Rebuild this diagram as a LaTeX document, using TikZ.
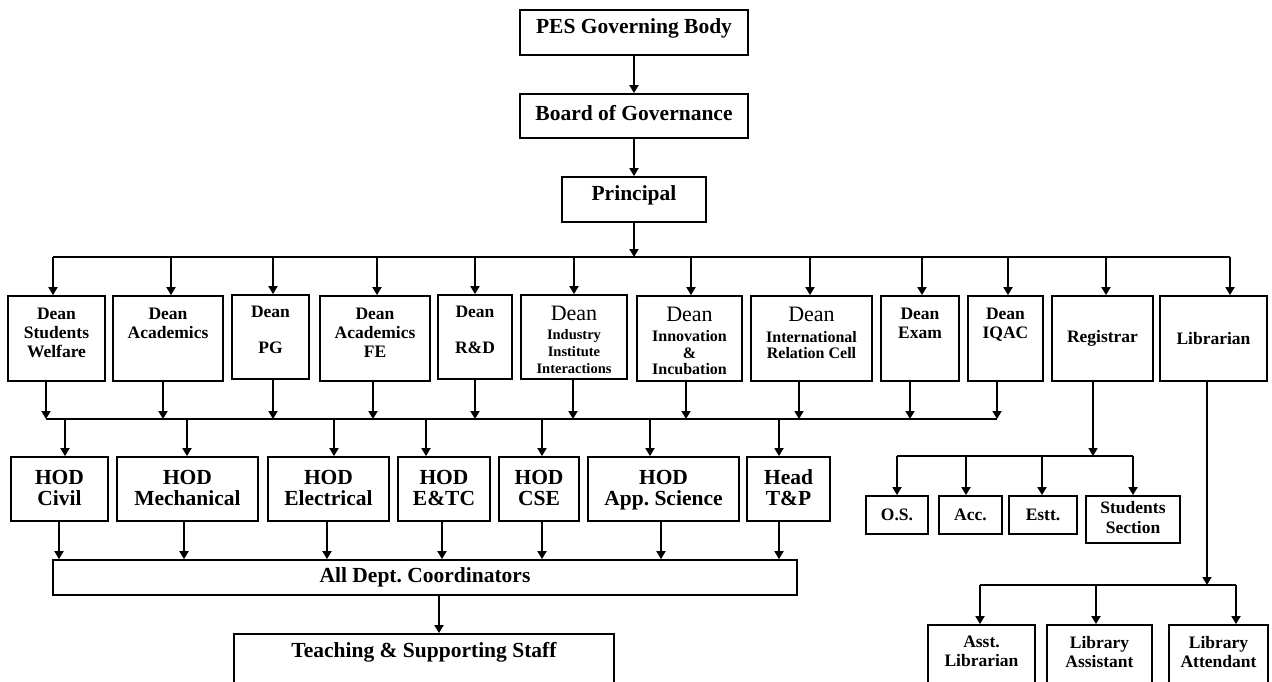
\documentclass[tikz,border=0pt]{standalone}
\usepackage{fontspec}
\setmainfont{Liberation Serif}
\usetikzlibrary{fit,arrows.meta}
\newcommand\BigDean{{\fontsize{11}{11}\selectfont\mdseries Dean}}
\begin{document}
\begin{tikzpicture}[x=0.5pt,y=-0.5pt,
  lw/.style={line width=0.9pt},
  box/.style={draw, line width=0.9pt, inner sep=0pt},
  arr/.style={line width=0.9pt, -{Triangle[length=4pt,width=4.5pt]}},
  big/.style={font=\fontsize{10.75}{10.5}\selectfont\bfseries, align=center, inner sep=0pt},
  mid/.style={font=\fontsize{8.75}{9.5}\selectfont\bfseries, align=center, inner sep=0pt},
  sml/.style={font=\fontsize{7.25}{8.5}\selectfont\bfseries, align=center, inner sep=0pt},
  sub/.style={font=\fontsize{8}{8.25}\selectfont\bfseries, align=center, inner sep=0pt},
]
\useasboundingbox (0,0) rectangle (1272,681);
\clip (0,0) rectangle (1272,681);

% top chain
\node[box, fit={(520,10) (748,55)}] (gov) {};
\node[big] (govt) at ([yshift=2pt]gov.center) {PES Governing Body};
\node[box, fit={(520,94) (748,138)}] (board) {};
\node[big] (boardt) at ([yshift=1.5pt]board.center) {Board of Governance};
\node[box, fit={(562,177) (706,222)}] (prin) {};
\node[big] (print) at ([yshift=2pt]prin.center) {Principal};
\draw[arr] (gov.south) -- (board.north);
\draw[arr] (board.south) -- (prin.north);

% dean row
\node[box, fit={(8,296) (105,381)}] (dsw) {};
\node[box, fit={(113,296) (223,381)}] (dac) {};
\node[box, fit={(232,295) (309,379)}] (dpg) {};
\node[box, fit={(320,296) (430,381)}] (dfe) {};
\node[box, fit={(438,295) (512,379)}] (drd) {};
\node[box, fit={(521,295) (627,379)}] (dii) {};
\node[box, fit={(637,296) (742,381)}] (din) {};
\node[box, fit={(751,296) (872,381)}] (dir) {};
\node[box, fit={(881,296) (959,381)}] (dex) {};
\node[box, fit={(968,296) (1043,381)}] (dqa) {};
\node[box, fit={(1052,296) (1153,381)}] (reg) {};
\node[box, fit={(1160,296) (1267,381)}] (lib) {};
\node[mid] (regt) at (reg.center) {Registrar};
\node[mid] (libt) at (lib.center) {Librarian};

\node[mid, anchor=north] (dswt) at ([yshift=-6.2pt]dsw.north) {Dean\\Students\\Welfare};
\node[mid, anchor=north] (dact) at ([yshift=-6.2pt]dac.north) {Dean\\Academics};
\node[mid, anchor=north] (dpgt) at ([yshift=-6pt]dpg.north) {Dean\\[8.5pt]PG};
\node[mid, anchor=north] (dfet) at ([yshift=-6.2pt]dfe.north) {Dean\\Academics\\FE};
\node[mid, anchor=north] (drdt) at ([yshift=-6pt]drd.north) {Dean\\[8.5pt]R\&D};
\node[sml, anchor=north] (diit) at ([yshift=-5.8pt]dii.north) {\BigDean\\[0.75pt]Industry\\Institute\\Interactions};
\node[sub, anchor=north] (dint) at ([yshift=-5.8pt]din.north) {\BigDean\\[1.75pt]Innovation\\\&\\Incubation};
\node[sub, anchor=north] (dirt) at ([yshift=-5.8pt]dir.north) {\BigDean\\[2pt]International\\Relation Cell};
\node[mid, anchor=north] (dext) at ([yshift=-6.2pt]dex.north) {Dean\\Exam};
\node[mid, anchor=north] (dqat) at ([yshift=-6.2pt]dqa.north) {Dean\\IQAC};

% main bus
\coordinate (busL) at (53,257);
\coordinate (busR) at (1230,257);
\draw[lw] (busL) -- (busR);
\draw[arr] (prin.south) -- (prin.south |- busL);
\foreach \x/\n in {53/dsw,171/dac,273/dpg,377/dfe,475/drd,574/dii,691/din,810/dir,922/dex,1008/dqa,1106/reg,1230/lib}
  \draw[arr] (\x,257) -- (\x,257 |- \n.north);

% lower bus
\coordinate (lbL) at (46,419);
\coordinate (lbR) at (997,419);
\draw[lw] (lbL) -- (lbR);
\foreach \x/\n in {46/dsw,163/dac,273/dpg,373/dfe,475/drd,573/dii,686/din,799/dir,910/dex,997/dqa}
  \draw[arr] (\x,0 |- \n.south) -- (\x,419);

% HOD row
\node[box, fit={(11,457) (108,521)}] (hc) {};
\node[box, fit={(117,457) (258,521)}] (hm) {};
\node[box, fit={(268,457) (389,521)}] (he) {};
\node[box, fit={(398,457) (490,521)}] (het) {};
\node[box, fit={(499,457) (579,521)}] (hcs) {};
\node[box, fit={(588,457) (739,521)}] (has) {};
\node[box, fit={(747,457) (830,521)}] (htp) {};
\node[big] (hct) at ([yshift=0.5pt]hc.center) {HOD\\Civil};
\node[big] (hmt) at ([yshift=0.5pt]hm.center) {HOD\\Mechanical};
\node[big] (het2) at ([yshift=0.5pt]he.center) {HOD\\Electrical};
\node[big] (hett) at ([yshift=0.5pt]het.center) {HOD\\E\&TC};
\node[big] (hcst) at ([yshift=0.5pt]hcs.center) {HOD\\CSE};
\node[big] (hast) at ([yshift=-0.5pt]has.center) {HOD\\App.\ Science};
\node[big] (htpt) at ([yshift=0.5pt]htp.center) {Head\\T\&P};
\foreach \x/\n in {65/hc,187/hm,334/he,426/het,542/hcs,650/has,779/htp}
  \draw[arr] (\x,419) -- (\x,419 |- \n.north);

\node[box, fit={(53,560) (797,595)}] (alld) {};
\node[big] (alldt) at (alld.center) {All Dept.\ Coordinators};
\foreach \x/\n in {59/hc,184/hm,327/he,442/het,542/hcs,661/has,779/htp}
  \draw[arr] (\x,0 |- \n.south) -- (\x,0 |- alld.north);

\node[box, fit={(234,634) (614,730)}] (teach) {};
\node[big] (teacht) at ([yshift=-9.5pt]teach.north) {Teaching \& Supporting Staff};
\draw[arr] (439,0 |- alld.south) -- (439,0 |- teach.north);

% registrar subtree
\node[box, fit={(866,496) (928,534)}] (os) {};
\node[box, fit={(939,496) (1002,534)}] (acc) {};
\node[box, fit={(1009,496) (1077,534)}] (estt) {};
\node[box, fit={(1086,496) (1180,543)}] (ss) {};
\node[mid] (ost) at (os.center) {O.S.};
\node[mid] (acct) at (acc.center) {Acc.};
\node[mid] (esttt) at (estt.center) {Estt.};
\node[mid] (sst) at ([yshift=1pt]ss.center) {Students\\Section};
\draw[arr] (1093,0 |- reg.south) -- (1093,456);
\draw[lw] (897,456) -- (1133,456);
\foreach \x/\n in {897/os,966/acc,1042/estt,1133/ss}
  \draw[arr] (\x,456) -- (\x,456 |- \n.north);

% librarian subtree
\node[box, fit={(928,625) (1035,730)}] (al) {};
\node[box, fit={(1047,625) (1152,730)}] (la) {};
\node[box, fit={(1169,625) (1268,730)}] (lat) {};
\node[mid, anchor=north] (alt) at ([yshift=-5.8pt]al.north) {Asst.\\Librarian};
\node[mid, anchor=north] (lat2) at ([yshift=-5.8pt]la.north) {Library\\Assistant};
\node[mid, anchor=north] (latt) at ([yshift=-5.8pt]lat.north) {Library\\Attendant};
\draw[arr] (1207,0 |- lib.south) -- (1207,585);
\draw[lw] (980,585) -- (1236,585);
\foreach \x/\n in {980/al,1096/la,1236/lat}
  \draw[arr] (\x,585) -- (\x,585 |- \n.north);
\end{tikzpicture}
\end{document}
